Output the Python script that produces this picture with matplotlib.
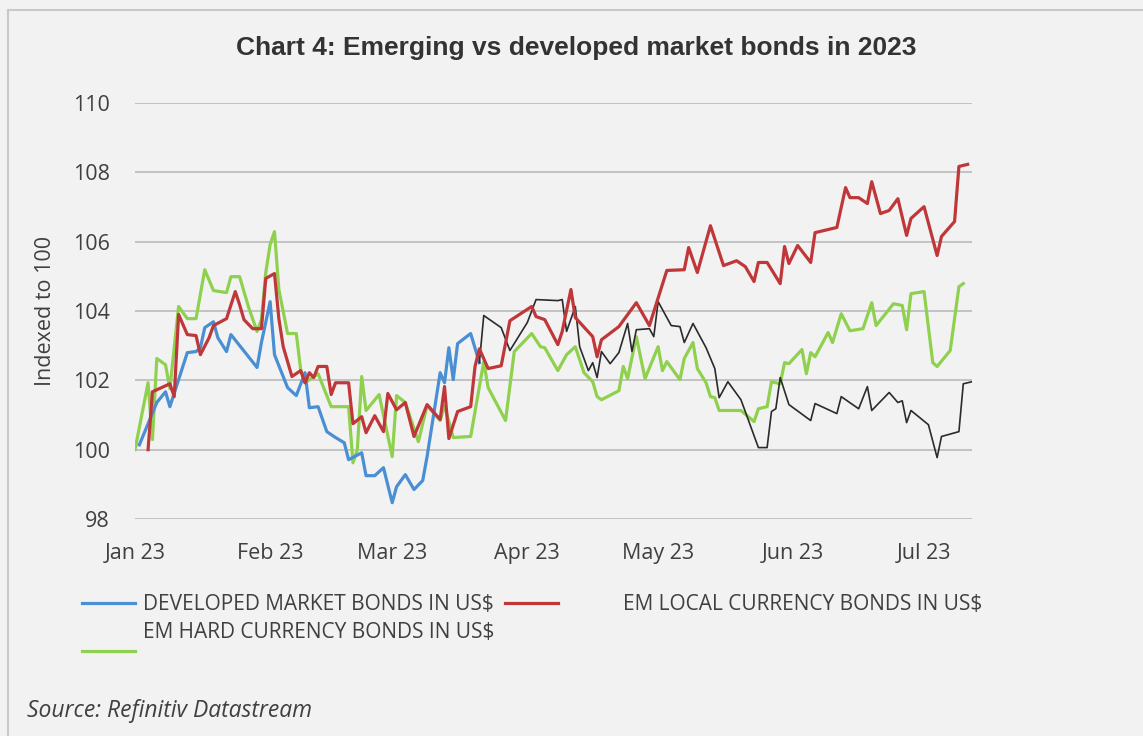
import matplotlib
matplotlib.use("Agg")
import matplotlib.pyplot as plt
import matplotlib.dates as mdates
from matplotlib.lines import Line2D
from matplotlib.patches import Rectangle
import pandas as pd

# days after 1 Jan 2023, index values
dm_day = [1, 5, 7, 8, 12, 14, 15, 16, 18, 19, 21, 22, 28, 29, 31, 32, 35, 37, 39, 40,
          42, 44, 46, 48, 49, 52, 53, 55, 57, 59, 60, 62, 64, 66, 67, 70, 71, 72, 73, 74,
          77, 79,
          80, 84, 86, 90, 92, 97, 98, 99, 101, 102, 104, 105, 106, 107, 109, 111, 113, 114,
          115, 118, 119, 120, 123, 125, 126, 128, 131, 133, 134, 136, 139, 143, 145, 146,
          147, 148, 150, 155, 156, 161, 162, 166, 168, 169, 173, 175, 176, 177, 178, 182,
          184, 185, 189, 190, 192]
dm_val = [100.14, 101.36, 101.67, 101.24, 102.80, 102.83, 102.94, 103.52, 103.69, 103.23,
          102.83, 103.32, 102.37, 103.09, 104.27, 102.74, 101.79, 101.56, 102.22, 101.21,
          101.24, 100.52, 100.35, 100.20, 99.71, 99.91, 99.25, 99.25, 99.48, 98.47,
          98.93, 99.28, 98.85, 99.11, 99.80, 102.22, 101.93, 102.94, 102.02, 103.06,
          103.35, 102.51,
          103.87, 103.52, 102.86, 103.67, 104.33, 104.30, 104.33, 103.41, 104.13, 102.97,
          102.28, 102.51, 102.08, 102.83, 102.48, 102.80, 103.64, 102.83, 103.46, 103.49,
          103.26, 104.27, 103.58, 103.55, 103.09, 103.64, 102.94, 102.34, 101.50, 101.96,
          101.44, 100.06, 100.06, 101.10, 101.18, 102.08, 101.30, 100.84, 101.33, 101.04,
          101.53, 101.18, 101.82, 101.13, 101.65, 101.36, 101.41, 100.78, 101.13, 100.72,
          99.77, 100.38, 100.52, 101.90, 101.96]
dm_blue_end = 41  # last point drawn in blue, the rest is drawn thin black

eml_day = [3, 4, 8, 9, 10, 12, 14, 15, 17, 18, 21, 23, 24, 25, 27, 29, 30, 32, 33, 34,
           36, 38, 39, 40, 41, 42, 44, 45, 46, 49, 50, 52, 53, 55, 57, 58, 60, 62, 64, 67,
           70, 71, 72, 74, 77, 78, 79, 81, 84, 86, 91, 92, 94, 97, 98, 100, 101, 105, 106,
           107, 111, 115, 118, 122, 126, 127, 129, 132, 135, 138, 140, 142, 143, 145, 148,
           149, 150, 152, 155, 156, 161, 163, 164, 166, 168, 169, 171, 173, 175, 177, 178,
           181, 184, 185, 188, 189, 191]
eml_val = [100.00, 101.67, 101.90, 101.53, 103.90, 103.32, 103.29, 102.74, 103.23, 103.58,
           103.78, 104.56, 104.18, 103.75, 103.49, 103.49, 104.94, 105.08, 103.78, 102.97,
           102.11, 102.28, 101.93, 102.22, 102.08, 102.40, 102.40, 101.59, 101.93, 101.93,
           100.75, 100.95, 100.49, 100.98, 100.52, 101.62, 101.15, 101.36, 100.38, 101.30,
           100.87, 101.82, 100.32, 101.10, 101.24, 102.40, 102.91, 102.34, 102.42, 103.72,
           104.13, 103.84, 103.75, 103.03, 103.41, 104.62, 103.81, 103.26, 102.68, 103.17,
           103.55, 104.24, 103.58, 105.17, 105.19, 105.83, 105.11, 106.46, 105.31, 105.45,
           105.28, 104.85, 105.40, 105.40, 104.79, 105.86, 105.37, 105.89, 105.40, 106.26,
           106.41, 107.56, 107.27, 107.27, 107.10, 107.73, 106.81, 106.90, 107.24, 106.18,
           106.67, 107.01, 105.60, 106.15, 106.58, 108.17, 108.23]

emh_day = [0, 3, 4, 5, 7, 8, 10, 12, 14, 16, 18, 21, 22, 24, 26, 28, 29, 30, 31, 32,
           33, 35, 37, 38, 39, 42, 45, 49, 50, 51, 52, 53, 56, 59, 60, 62, 65, 67, 70, 71,
           73, 77, 80, 81, 85, 87, 91, 93, 94, 97, 99, 101, 103, 105, 106, 107, 111, 112,
           113, 115, 117, 120, 121, 122, 125, 126, 128, 129, 131, 132, 133, 134, 139, 142,
           143, 145, 146, 148, 149, 150, 153, 154, 155, 156, 159, 160, 162, 164, 167, 169,
           170, 174, 176, 177, 178, 181, 183, 184, 187, 189, 190]
emh_val = [100.00, 101.93, 100.29, 102.63, 102.45, 101.76, 104.13, 103.78, 103.78, 105.19,
           104.59, 104.53, 104.99, 104.99, 104.13, 103.41, 103.75, 105.11, 105.92, 106.29,
           104.62, 103.35, 103.35, 102.31, 101.93, 102.19, 101.24, 101.24, 99.62, 100.00,
           102.11, 101.13, 101.59, 99.80, 101.56, 101.36, 100.23, 101.27, 100.84, 101.27,
           100.35, 100.38, 102.54, 101.79, 100.84, 102.83, 103.35, 102.97, 102.94, 102.28,
           102.74, 102.97, 102.22, 101.96, 101.53, 101.44, 101.70, 102.40, 102.05, 103.26,
           102.05, 102.97, 102.28, 102.54, 102.02, 102.63, 103.09, 102.34, 101.93, 101.53,
           101.50, 101.13, 101.13, 100.81, 101.18, 101.24, 101.96, 101.90, 102.51, 102.48,
           102.89, 102.19, 102.80, 102.68, 103.38, 103.09, 103.92, 103.43, 103.49, 104.24,
           103.58, 104.21, 104.16, 103.46, 104.50, 104.56, 102.51, 102.40, 102.86, 104.70,
           104.79]

labels = ["DEVELOPED MARKET BONDS IN US$", "EM LOCAL CURRENCY BONDS IN US$",
          "EM HARD CURRENCY BONDS IN US$"]

start = pd.Timestamp("2023-01-01")
def to_dates(days):
    return start + pd.to_timedelta(days, unit="D")

bg = "#f2f2f2"
c_blue, c_red, c_green = "#4a8fd4", "#c0373a", "#8fd14f"
txt = "#404040"

plt.rcParams["font.family"] = ["Open Sans", "DejaVu Sans"]

fig = plt.figure(figsize=(11.43, 7.36), dpi=100, facecolor=bg)
fig.add_artist(Rectangle((8 / 1143, -0.1), 1.2, 1 - 10 / 736 + 0.1, transform=fig.transFigure,
                         facecolor="none", edgecolor="#c8c8c8", lw=1.5))

ax = fig.add_axes([135 / 1143, 1 - 519 / 736, (972 - 135) / 1143, (519 - 103) / 736])
ax.set_facecolor(bg)

dm_dates = to_dates(dm_day)
ax.plot(dm_dates[:dm_blue_end + 1], dm_val[:dm_blue_end + 1], color=c_blue, lw=2.3, zorder=3)
ax.plot(dm_dates[dm_blue_end:], dm_val[dm_blue_end:], color="#2b2b2b", lw=1.2, zorder=3)
ax.plot(to_dates(eml_day), eml_val, color=c_red, lw=2.3, zorder=4)
ax.plot(to_dates(emh_day), emh_val, color=c_green, lw=2.3, zorder=2)

ax.set_ylim(98, 110)
ax.set_yticks(range(98, 111, 2))
ax.set_xlim(start, start + pd.Timedelta(days=192))
ax.xaxis.set_major_locator(mdates.MonthLocator())
ax.xaxis.set_major_formatter(mdates.DateFormatter("%b %y"))
ax.grid(axis="y", color="#bfbfbf", lw=1.3)
ax.set_axisbelow(True)
for s in ax.spines.values():
    s.set_visible(False)
ax.tick_params(axis="both", length=0, labelsize=15.5, labelcolor=txt)
ax.tick_params(axis="x", pad=17)
ax.tick_params(axis="y", pad=18)
ax.set_ylabel("Indexed to 100", fontsize=15.5, color=txt, labelpad=12)

fig.text(576 / 1143, 1 - 48 / 736, "Chart 4: Emerging vs developed market bonds in 2023",
         ha="center", va="center", fontsize=19, fontweight="bold", color="#333333",
         family=["Liberation Sans", "DejaVu Sans"])

# legend laid out the way the source wraps it
def key(x0, x1, y, color):
    fig.add_artist(Line2D([x0 / 1143, x1 / 1143], [1 - y / 736] * 2, color=color, lw=2.3,
                          transform=fig.transFigure))

key(82, 135, 603, c_blue)
key(505, 558, 603, c_red)
key(82, 135, 651, c_green)
fig.text(143 / 1143, 1 - 604 / 736, labels[0], ha="left", va="center", fontsize=15, color=txt)
fig.text(623 / 1143, 1 - 604 / 736, labels[1], ha="left", va="center", fontsize=15, color=txt)
fig.text(143 / 1143, 1 - 633 / 736, labels[2], ha="left", va="center", fontsize=15, color=txt)

fig.text(27 / 1143, 1 - 711 / 736, "Source: Refinitiv Datastream", ha="left", va="center",
         fontsize=16.5, style="italic", color=txt)

fig.savefig("out.png", dpi=100, facecolor=bg)
